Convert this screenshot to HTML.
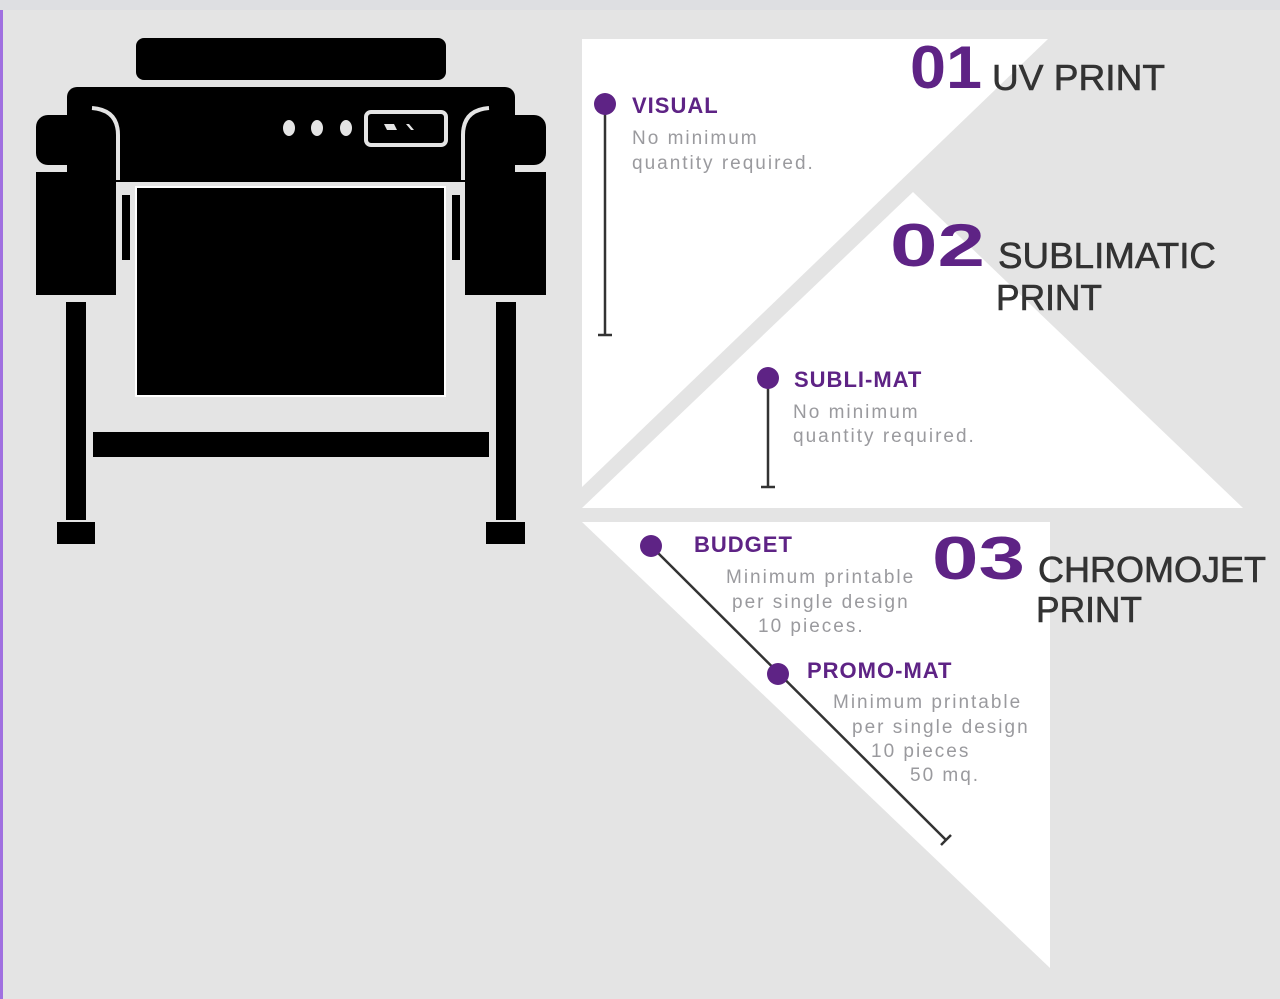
<!DOCTYPE html>
<html><head><meta charset="utf-8"><style>
html,body{margin:0;padding:0;background:#e4e4e4;}
svg{display:block;}
.h{font-family:"Liberation Sans",sans-serif;fill:#333;font-size:36px;stroke:#333;stroke-width:0.6px;}
.n{font-family:"Liberation Sans",sans-serif;font-weight:bold;fill:#5e2385;font-size:60px;}
.t{font-family:"Liberation Sans",sans-serif;font-weight:bold;fill:#5e2385;font-size:22px;letter-spacing:1px;}
.d{font-family:"Liberation Sans",sans-serif;fill:#9a9a9e;font-size:19px;letter-spacing:2px;}
</style></head><body>
<svg width="1280" height="999" viewBox="0 0 1280 999" xmlns="http://www.w3.org/2000/svg">
<rect x="0" y="0" width="1280" height="999" fill="#e4e4e4"/>
<rect x="0" y="0" width="1280" height="10" fill="#dedfe2"/>
<rect x="0" y="10" width="3" height="989" fill="#a070e0"/>
<!-- printer -->
<g fill="#000">
<rect x="136" y="38" width="310" height="42" rx="8"/>
<rect x="67" y="87" width="448" height="95" rx="10"/>
<rect x="36" y="115" width="80" height="50" rx="12"/>
<rect x="36" y="172" width="80" height="123"/>
<rect x="465" y="115" width="81" height="50" rx="12"/>
<rect x="465" y="172" width="81" height="123"/>
<rect x="137" y="188" width="307" height="207"/>
<rect x="122" y="195" width="8" height="65"/>
<rect x="452" y="195" width="8" height="65"/>
<rect x="66" y="302" width="20" height="218"/>
<rect x="496" y="302" width="20" height="218"/>
<rect x="57" y="522" width="38" height="22"/>
<rect x="486" y="522" width="39" height="22"/>
<rect x="93" y="432" width="396" height="25"/>
</g>
<path d="M118 180 V135 Q118 110 92 108 M463 180 V135 Q463 110 489 108" stroke="#e4e4e4" stroke-width="4" fill="none"/>
<rect x="136" y="187" width="309" height="209" fill="none" stroke="#fff" stroke-width="2"/>
<g fill="#e4e4e4">
<ellipse cx="289" cy="128" rx="6" ry="8"/><ellipse cx="317" cy="128" rx="6" ry="8"/><ellipse cx="346" cy="128" rx="6" ry="8"/>
</g>
<rect x="366" y="112" width="80" height="33" rx="5" fill="none" stroke="#e4e4e4" stroke-width="4"/>
<polygon points="384,124 394,124 397,130 387,130" fill="#e4e4e4"/>
<polygon points="406,124 409,124 414,130 411,130" fill="#e4e4e4"/>
<!-- triangles -->
<polygon points="582,39 1048,39 582,487" fill="#fff"/>
<polygon points="913,192 1243,508 582,508" fill="#fff"/>
<polygon points="582,522 1050,522 1050,968" fill="#fff"/>
<!-- headings -->
<text class="n" x="910" y="88" textLength="72" lengthAdjust="spacingAndGlyphs">01</text>
<text class="h" x="992" y="90" textLength="173" lengthAdjust="spacingAndGlyphs">UV PRINT</text>
<text class="n" x="890" y="266" textLength="95" lengthAdjust="spacingAndGlyphs">02</text>
<text class="h" x="998" y="268" textLength="218" lengthAdjust="spacingAndGlyphs">SUBLIMATIC</text>
<text class="h" x="996" y="310" textLength="106" lengthAdjust="spacingAndGlyphs">PRINT</text>
<text class="n" x="932" y="579" textLength="93" lengthAdjust="spacingAndGlyphs">03</text>
<text class="h" x="1038" y="582" textLength="228" lengthAdjust="spacingAndGlyphs">CHROMOJET</text>
<text class="h" x="1036" y="622" textLength="106" lengthAdjust="spacingAndGlyphs">PRINT</text>
<!-- connectors -->
<g stroke="#333" stroke-width="2.5">
<line x1="605" y1="104" x2="605" y2="335"/><line x1="598" y1="335" x2="612" y2="335"/>
<line x1="768" y1="378" x2="768" y2="487"/><line x1="761" y1="487" x2="775" y2="487"/>
<line x1="651" y1="546" x2="946" y2="840"/><line x1="941" y1="845" x2="951" y2="835"/>
</g>
<g fill="#5e2385">
<circle cx="605" cy="104" r="11"/><circle cx="768" cy="378" r="11"/>
<circle cx="651" cy="546" r="11"/><circle cx="778" cy="674" r="11"/>
</g>
<text class="t" x="632" y="113">VISUAL</text>
<text class="d" x="632" y="144">No minimum</text>
<text class="d" x="632" y="169">quantity required.</text>
<text class="t" x="794" y="387">SUBLI-MAT</text>
<text class="d" x="793" y="418">No minimum</text>
<text class="d" x="793" y="442">quantity required.</text>
<text class="t" x="694" y="552">BUDGET</text>
<text class="d" x="726" y="583">Minimum printable</text>
<text class="d" x="732" y="608">per single design</text>
<text class="d" x="758" y="632">10 pieces.</text>
<text class="t" x="807" y="678">PROMO-MAT</text>
<text class="d" x="833" y="708">Minimum printable</text>
<text class="d" x="852" y="733">per single design</text>
<text class="d" x="871" y="757">10 pieces</text>
<text class="d" x="910" y="781">50 mq.</text>
</svg>
</body></html>
